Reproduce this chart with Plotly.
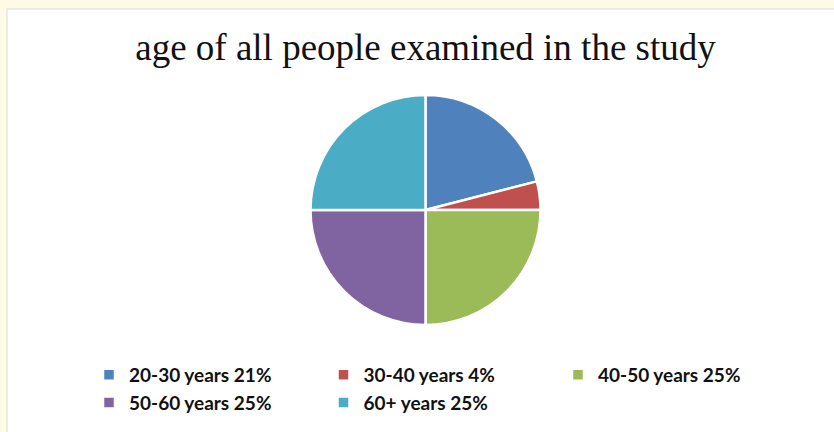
import plotly.graph_objects as go

categories = ["20-30 years", "30-40 years", "40-50 years", "50-60 years", "60+ years"]
percentages = [21, 4, 25, 25, 25]
colors = ["#4F81BD", "#C0504D", "#9BBB59", "#8064A2", "#4BACC6"]
title_text = "age of all people examined in the study"

W, H = 834, 432
legend_labels = [f"{c} {p}%" for c, p in zip(categories, percentages)]

fig = go.Figure(
    go.Pie(
        labels=legend_labels,
        values=percentages,
        sort=False,
        direction="clockwise",
        rotation=0,
        marker=dict(colors=colors, line=dict(color="white", width=2.5)),
        textinfo="none",
        domain=dict(x=[310 / W, 541 / W], y=[(H - 325) / H, (H - 95) / H]),
    )
)

fig.update_layout(
    width=W,
    height=H,
    margin=dict(l=0, r=0, t=0, b=0),
    paper_bgcolor="#FFFAE6",
    plot_bgcolor="white",
    title=dict(
        text=title_text,
        font=dict(family="Liberation Serif, Times New Roman, serif", size=37, color="#111111"),
        x=425.5 / W,
        xanchor="center",
        xref="paper",
        yref="container",
        y=1 - 47 / H,
        yanchor="middle",
    ),
    legend=dict(
        orientation="h",
        x=89 / W,
        xanchor="left",
        y=1 - 356 / H,
        yanchor="top",
        entrywidth=189.5,
        entrywidthmode="pixels",
        font=dict(family="Lato, Open Sans, sans-serif", size=19, color="#111111", weight="bold"),
        bgcolor="rgba(0,0,0,0)",
    ),
    shapes=[
        dict(
            type="rect",
            xref="paper",
            yref="paper",
            x0=7 / W,
            x1=1.02,
            y0=-0.05,
            y1=1 - 9 / H,
            fillcolor="white",
            line=dict(color="#D9D9D9", width=1),
            layer="below",
        )
    ],
)

fig.write_html(
    "out.html",
    config={"displayModeBar": False},
    post_script="document.body.style.margin='0';document.body.style.overflow='hidden';",
)
